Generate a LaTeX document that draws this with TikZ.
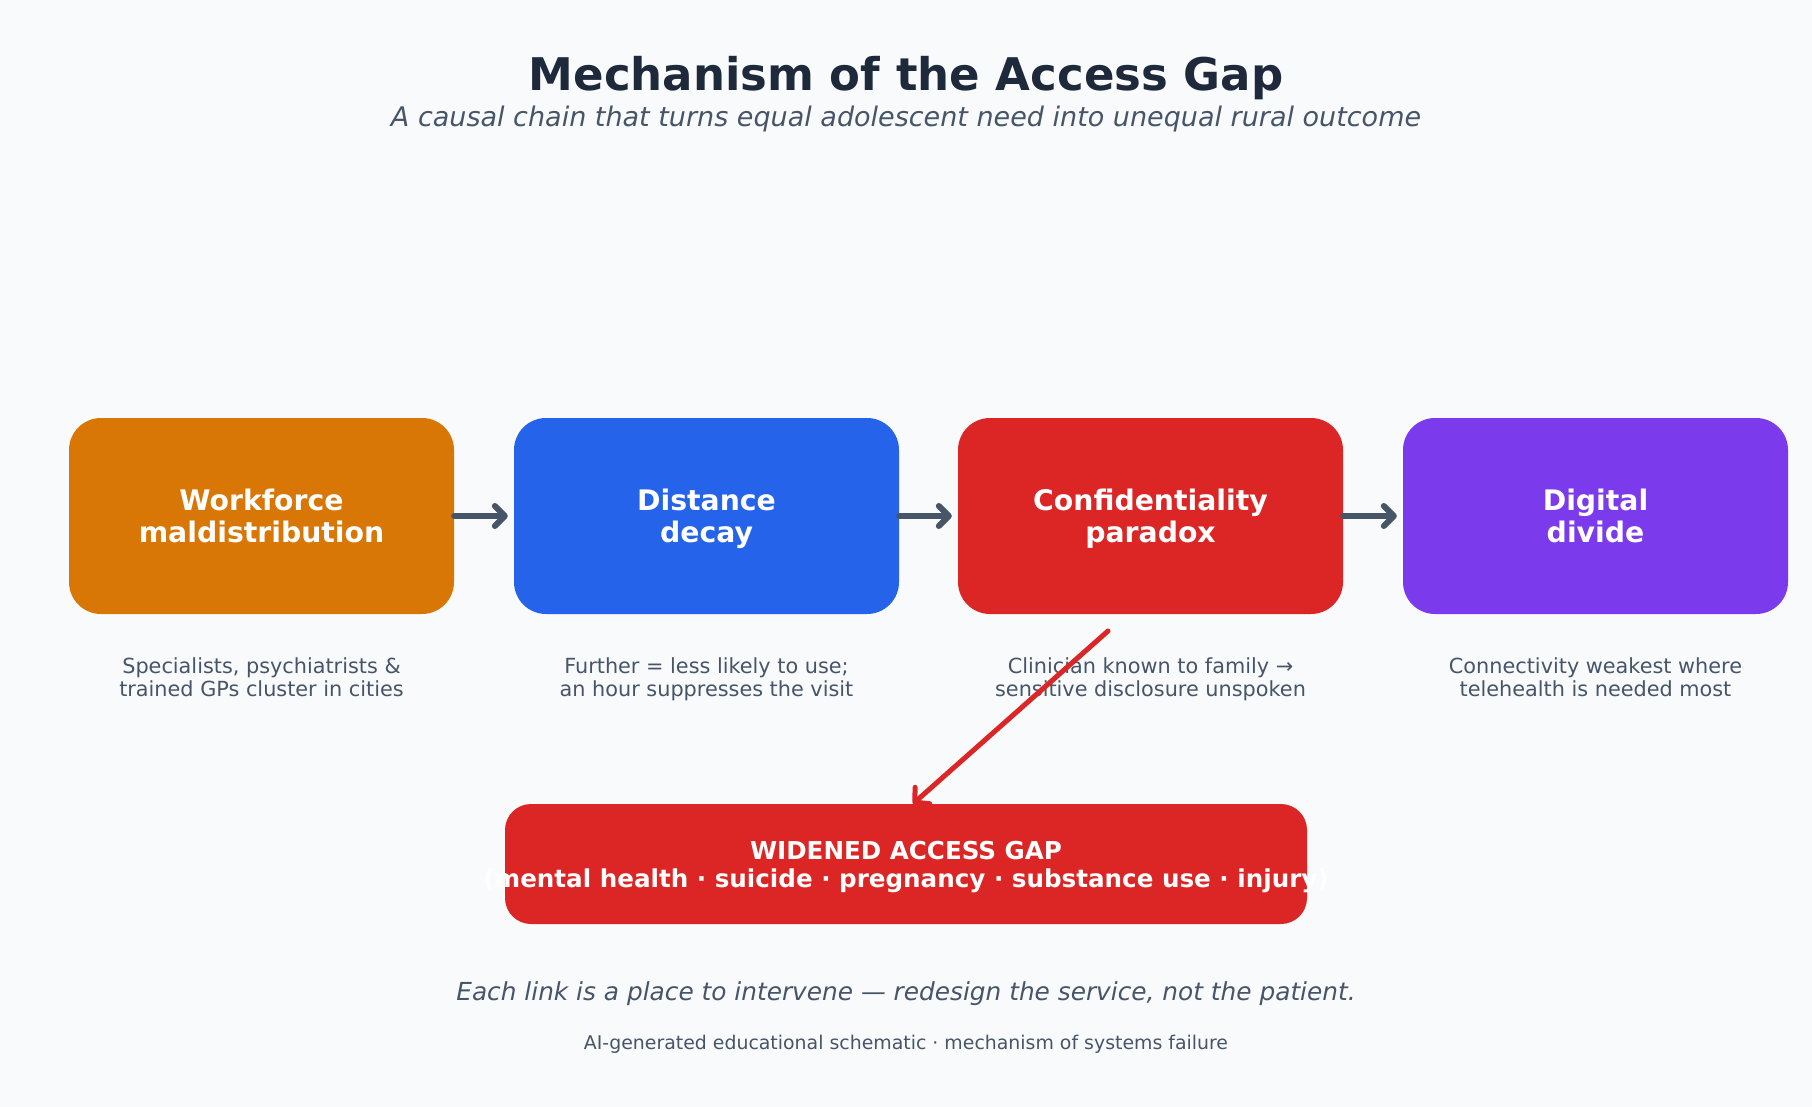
\documentclass[tikz,border=0pt]{standalone}
\usepackage{fontspec}
\setmainfont{DejaVu Sans}
\usetikzlibrary{arrows.meta,calc}
\definecolor{bg}{HTML}{F8FAFC}
\definecolor{ink}{HTML}{1E293B}
\definecolor{slate}{HTML}{475569}
\definecolor{corange}{HTML}{D97706}
\definecolor{cblue}{HTML}{2563EB}
\definecolor{cred}{HTML}{DC2626}
\definecolor{cpurple}{HTML}{7C3AED}
\newcommand{\twolines}[2]{\begin{tabular}[t]{@{}c@{}}#1\\#2\end{tabular}}
\tikzset{
  stagebox/.style={rectangle, rounded corners=32pt, minimum width=385pt, minimum height=196pt,
    text=white, inner sep=0pt, text height=0pt, text depth=12pt,
    font=\fontsize{28.3}{32}\selectfont\bfseries},
  desc/.style={text=slate, inner sep=0pt, anchor=base, font=\fontsize{20.8}{23}\selectfont},
  chain/.style={draw=slate, line width=6pt, line cap=round, line join=round,
    -{Straight Barb[length=10pt,width=20pt,line cap=round,line join=round]}, shorten >=6pt},
  redarrow/.style={draw=cred, line width=5pt, line cap=round, line join=round,
    -{Straight Barb[length=10pt,width=22pt,line cap=round,line join=round]}},
  gapbox/.style={rectangle, rounded corners=26pt, fill=cred, minimum width=802pt, minimum height=120pt,
    inner sep=0pt},
  gaptext/.style={anchor=base, text=white, inner sep=0pt, font=\fontsize{24.6}{28}\selectfont\bfseries},
}
\begin{document}
\begin{tikzpicture}[x=1pt,y=-1pt]
\fill[bg] (0,0) rectangle (1812,1107);
\useasboundingbox (0,0) rectangle (1812,1107);

\node[anchor=base, text=ink, inner sep=0pt, font=\fontsize{45}{50}\selectfont\bfseries] (title) at (906,91) {Mechanism of the Access Gap};
\node[anchor=base, text=slate, inner sep=0pt, font=\fontsize{27}{30}\selectfont\itshape] (subtitle) at (906,127) {A causal chain that turns equal adolescent need into unequal rural outcome};

\node[stagebox, fill=corange] (b1) at (261.5,516) {\twolines{Workforce}{maldistribution}};
\node[stagebox, fill=cblue] (b2) at (706.5,516) {\twolines{Distance}{decay}};
\node[stagebox, fill=cred] (b3) at (1150.5,516) {\twolines{Confidentiality}{paradox}};
\node[stagebox, fill=cpurple] (b4) at (1595.5,516) {\twolines{Digital}{divide}};

\draw[chain] (b1.east) -- (b2.west);
\draw[chain] (b2.east) -- (b3.west);
\draw[chain] (b3.east) -- (b4.west);

\node[desc] (d1) at (261.5,673) {\twolines{Specialists, psychiatrists \&}{trained GPs cluster in cities}};
\node[desc] (d2) at (706.5,673) {\twolines{Further = less likely to use;}{an hour suppresses the visit}};
\node[desc] (d3) at (1150.5,673) {\twolines{Clinician known to family →}{sensitive disclosure unspoken}};
\node[desc] (d4) at (1595.5,673) {\twolines{Connectivity weakest where}{telehealth is needed most}};

\node[gapbox] (gap) at (906,864) {};
\node[gaptext] (gapt1) at (906,859) {WIDENED ACCESS GAP};
\node[gaptext] (gapt2) at (906,887) {(mental health · suicide · pregnancy · substance use · injury)};

\coordinate (rs) at (1108,631);
\coordinate (re) at ($(gap.north)+(7,0)$);
\draw[redarrow] (rs) -- (re);

\node[anchor=base, text=slate, inner sep=0pt, font=\fontsize{24.8}{28}\selectfont\itshape] (foot) at (906,1000) {Each link is a place to intervene — redesign the service, not the patient.};
\node[anchor=base, text=slate, inner sep=0pt, font=\fontsize{18.9}{22}\selectfont] (credit) at (906,1049) {AI-generated educational schematic · mechanism of systems failure};
\end{tikzpicture}
\end{document}
